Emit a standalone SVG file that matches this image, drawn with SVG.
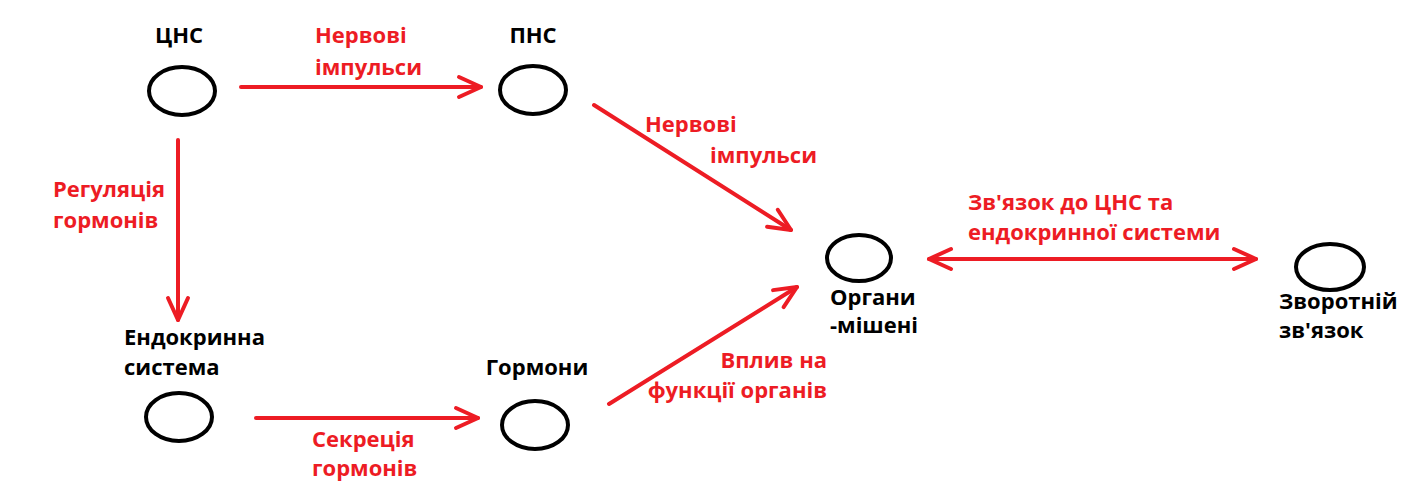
<svg xmlns="http://www.w3.org/2000/svg" width="1412" height="494" viewBox="0 0 1412 494">
<style>
.node ellipse { fill: none; stroke: #000; stroke-width: 4; }
.lbl { font-family: "Open Sans", "Noto Sans", sans-serif; font-weight: 700; font-size: 22px; fill: #000; }
.elbl { font-family: "Open Sans", "Noto Sans", sans-serif; font-weight: 700; font-size: 22px; fill: #ED1C24; }
.edge { stroke: #ED1C24; stroke-width: 4; fill: none; stroke-linecap: round; marker-end: url(#ah); }
</style>
<defs>
<marker id="ah" markerUnits="userSpaceOnUse" markerWidth="30" markerHeight="26" viewBox="-26 -13 30 26" refX="0" refY="0" orient="auto-start-reverse">
<path d="M-22,-10 L0,0 L-22,10" fill="none" stroke="#ED1C24" stroke-width="4" stroke-linecap="round" stroke-linejoin="round"/>
</marker>
</defs>
<rect width="1412" height="494" fill="#fff"/>
<g id="connectors">
<line class="edge" x1="241" y1="87" x2="481" y2="87"/>
<line class="edge" x1="178" y1="140" x2="178" y2="320"/>
<line class="edge" x1="256" y1="418" x2="478" y2="418"/>
<line class="edge" x1="594" y1="105" x2="791" y2="230"/>
<line class="edge" x1="609" y1="404" x2="797" y2="287"/>
<line class="edge" x1="929" y1="259" x2="1256" y2="259" marker-start="url(#ah)"/>
<text class="elbl" x="315" y="43">Нервові</text>
<text class="elbl" x="315" y="75">імпульси</text>
<text class="elbl" x="53" y="197">Регуляція</text>
<text class="elbl" x="53" y="228">гормонів</text>
<text class="elbl" x="312" y="447">Секреція</text>
<text class="elbl" x="312" y="476">гормонів</text>
<text class="elbl" x="645" y="132">Нервові</text>
<text class="elbl" x="710" y="163">імпульси</text>
<text class="elbl" x="827" y="368" text-anchor="end">Вплив на</text>
<text class="elbl" x="827" y="398" text-anchor="end">функції органів</text>
<text class="elbl" x="968" y="210">Зв'язок до ЦНС та</text>
<text class="elbl" x="968" y="240">ендокринної системи</text>
</g>
<g id="cns" class="node">
<ellipse cx="182" cy="91" rx="33" ry="24"/>
<text class="lbl" x="179" y="43" text-anchor="middle">ЦНС</text>
</g>
<g id="pns" class="node">
<ellipse cx="533" cy="90" rx="33" ry="24"/>
<text class="lbl" x="533" y="43" text-anchor="middle">ПНС</text>
</g>
<g id="endocrine" class="node">
<ellipse cx="179" cy="417" rx="33" ry="24"/>
<text class="lbl" x="124" y="345">Ендокринна</text>
<text class="lbl" x="124" y="375">система</text>
</g>
<g id="hormones" class="node">
<ellipse cx="535" cy="425" rx="33" ry="24"/>
<text class="lbl" x="537" y="375" text-anchor="middle">Гормони</text>
</g>
<g id="targets" class="node">
<ellipse cx="859" cy="258" rx="32" ry="23"/>
<text class="lbl" x="830" y="305">Органи</text>
<text class="lbl" x="830" y="333">-мішені</text>
</g>
<g id="feedback" class="node">
<ellipse cx="1330" cy="267" rx="34" ry="23"/>
<text class="lbl" x="1279" y="309">Зворотній</text>
<text class="lbl" x="1279" y="338">зв'язок</text>
</g>
</svg>
